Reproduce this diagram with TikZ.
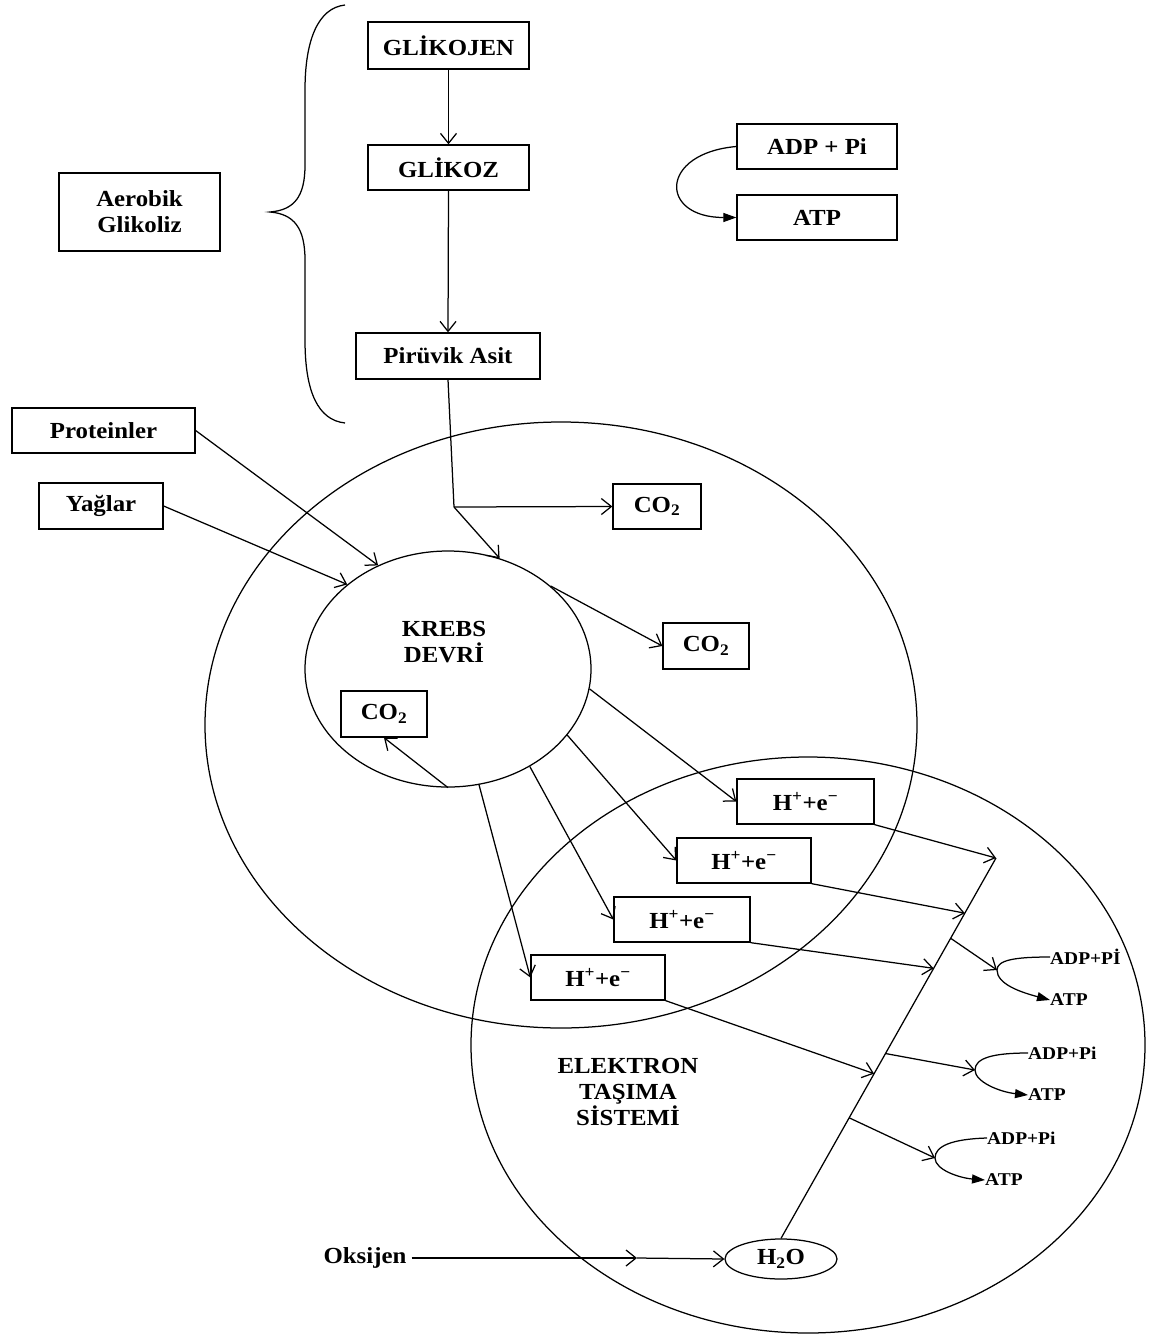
\documentclass[tikz,border=0pt]{standalone}
\usepackage{fontspec}
\setmainfont{Liberation Serif}[FakeStretch=1.08]
\usetikzlibrary{arrows.meta,calc,shapes.geometric}
\begin{document}
\begin{tikzpicture}[x=1pt,y=-1pt,
  lbl/.style={font=\fontsize{23}{26}\selectfont\bfseries, align=center, inner sep=2pt},
  bx/.style={draw, fill=white, line width=1.3pt, inner sep=0pt, font=\fontsize{23}{26}\selectfont\bfseries, align=center},
  sm/.style={font=\fontsize{18}{20}\selectfont\bfseries, inner sep=0pt},
  arr/.style={line width=1.25pt, -{Straight Barb[length=10pt,width=16pt]}},
  ln/.style={line width=1.25pt},
  farr/.style={line width=1.25pt, -{Triangle[length=13pt,width=9pt]}},
  ring/.style={draw, ellipse, line width=1.25pt, inner sep=0pt},
]
\useasboundingbox (0,0) rectangle (1153,1334);

% big rings
\node[ring, minimum width=712pt, minimum height=606pt] (outer) at (561,725) {};
\node[ring, minimum width=286pt, minimum height=236pt] (krebs) at (448,669) {};
\node[ring, minimum width=674pt, minimum height=576pt] (ets) at (808,1045) {};

\node[lbl, align=center] (krebstxt) at (444,642) {KREBS\\DEVRİ};
\node[lbl, align=center] (etstxt) at (628,1092) {ELEKTRON\\TAŞIMA\\SİSTEMİ};

% brace
\draw[ln] (345,5) .. controls (318,8) and (305,40) .. (305,90) -- (305,165)
  .. controls (305,197) and (294,210) .. (270,212)
  .. controls (294,214) and (305,228) .. (305,260) -- (305,340)
  .. controls (305,392) and (318,420) .. (345,423);

% boxes
\node[bx, minimum width=161pt, minimum height=47pt] (glikojen) at (448.5,45.5) {GLİKOJEN};
\node[bx, minimum width=161pt, minimum height=45pt] (glikoz) at (448.5,167.5) {GLİKOZ};
\node[bx, minimum width=184pt, minimum height=46pt] (pir) at (448,356) {Pirüvik Asit};
\node[bx, minimum width=161pt, minimum height=78pt] (aer) at (139.5,212) {Aerobik\\Glikoliz};
\node[bx, minimum width=160pt, minimum height=45pt] (adp) at (817,146.5) {ADP + Pi};
\node[bx, minimum width=160pt, minimum height=45pt] (atp) at (817,217.5) {ATP};
\node[bx, minimum width=183pt, minimum height=45pt] (prot) at (103.5,430.5) {Proteinler};
\node[bx, minimum width=124pt, minimum height=46pt] (yag) at (101,506) {Yağlar};
\node[bx, minimum width=88pt, minimum height=45pt] (co2a) at (657,506.5) {CO\textsubscript{2}};
\node[bx, minimum width=86pt, minimum height=46pt] (co2b) at (706,646) {CO\textsubscript{2}};
\node[bx, minimum width=86pt, minimum height=46pt] (co2c) at (384,714) {CO\textsubscript{2}};
\node[bx, minimum width=137pt, minimum height=45pt] (h1) at (805.5,801.5) {H\textsuperscript{+}+e\textsuperscript{−}};
\node[bx, minimum width=134pt, minimum height=45pt] (h2) at (744,860.5) {H\textsuperscript{+}+e\textsuperscript{−}};
\node[bx, minimum width=136pt, minimum height=45pt] (h3) at (682,919.5) {H\textsuperscript{+}+e\textsuperscript{−}};
\node[bx, minimum width=134pt, minimum height=45pt] (h4) at (598,977.5) {H\textsuperscript{+}+e\textsuperscript{−}};

\node[ring, minimum width=112pt, minimum height=40pt, font=\fontsize{23}{26}\selectfont\bfseries] (h2o) at (781,1259) {H\textsubscript{2}O};
\node[lbl] (oks) at (365,1258) {Oksijen};

% top chain
\draw[arr] (glikojen.south) -- (glikoz.north);
\draw[arr] (glikoz.south) -- (pir.north);
\coordinate (j) at (454,507);
\draw[ln] (pir.south) -- (j);
\draw[arr] (j) -- (co2a.west);
\draw[arr] (j) -- (krebs.65);
\draw[arr] (prot.east) -- (krebs.124);
\draw[arr] (yag.east) -- (krebs.140);
\draw[arr] (krebs.39) -- (co2b.west);
\draw[arr] (krebs.-90) -- (co2c.south);
\draw[arr] (krebs.-8) -- (h1.west);
\draw[arr] (krebs.-29) -- (h2.west);
\draw[arr] (krebs.-50) -- (h3.west);
\draw[arr] (krebs.-75) -- (h4.west);

% ADP -> ATP top
\draw[farr] (adp.west) to[out=185,in=180,looseness=2.8] (atp.west);

% diagonal chain
\coordinate (dtop) at (996,858);
\draw[ln] (h2o.north) -- (dtop);
\coordinate (e2) at ($(h2o.north)!0.855!(dtop)$);
\coordinate (e3) at ($(h2o.north)!0.710!(dtop)$);
\coordinate (e4) at ($(h2o.north)!0.433!(dtop)$);
\coordinate (b1) at ($(h2o.north)!0.789!(dtop)$);
\coordinate (b2) at ($(h2o.north)!0.486!(dtop)$);
\coordinate (b3) at ($(h2o.north)!0.317!(dtop)$);
\draw[arr] (h1.south east) -- (dtop);
\draw[arr] (h2.south east) -- (e2);
\draw[arr] (h3.south east) -- (e3);
\draw[arr] (h4.south east) -- (e4);

% ATP curls
\coordinate (c1) at (997,970);
\coordinate (c2) at (975,1070);
\coordinate (c3) at (935,1158);
\draw[arr] (b1) -- (c1);
\draw[arr] (b2) -- (c2);
\draw[arr] (b3) -- (c3);
\node[sm, anchor=west] (a1) at (1050,957) {ADP+Pİ};
\node[sm, anchor=west] (t1) at (1050,1000) {ATP};
\node[sm, anchor=west] (a2) at (1028,1053) {ADP+Pi};
\node[sm, anchor=west] (t2) at (1028,1095) {ATP};
\node[sm, anchor=west] (a3) at (987,1138) {ADP+Pi};
\node[sm, anchor=west] (t3) at (985,1180) {ATP};
\draw[farr] (a1.west) .. controls (1015,957) and (997,960) .. (c1) .. controls (997,984) and (1020,992) .. (t1.west);
\draw[farr] (a2.west) .. controls (993,1053) and (975,1058) .. (c2) .. controls (975,1082) and (1000,1092) .. (t2.west);
\draw[farr] (a3.west) .. controls (952,1139) and (935,1146) .. (c3) .. controls (935,1170) and (960,1178) .. (t3.west);

% oxygen
\coordinate (om) at (637,1258);
\draw[arr] ([xshift=3pt]oks.east) -- (om);
\draw[arr] (om) -- (h2o.west);
\end{tikzpicture}
\end{document}
